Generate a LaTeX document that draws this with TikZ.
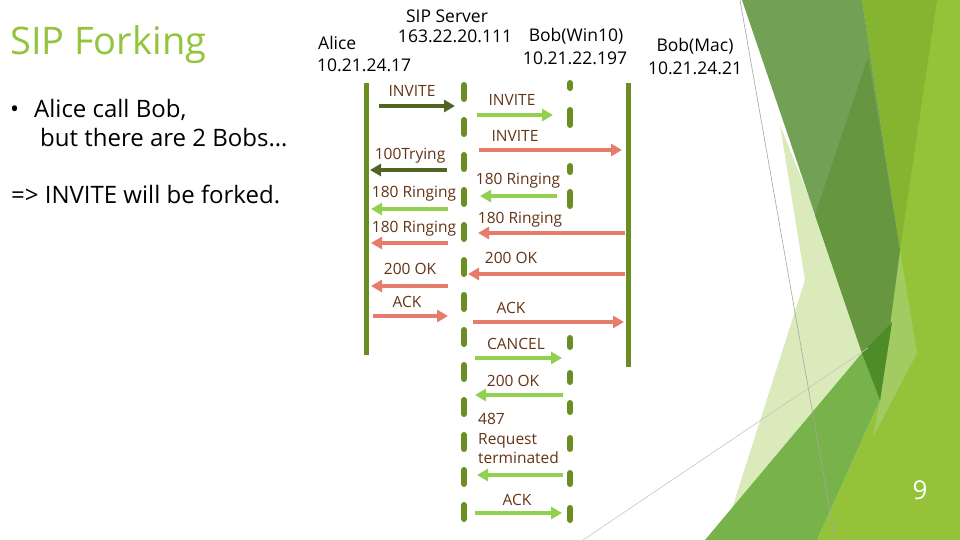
\documentclass[tikz,border=0pt]{standalone}
\usepackage{fontspec}
\setmainfont{Open Sans}
\usetikzlibrary{arrows.meta}
\definecolor{lifeC}{RGB}{107,142,35}
\definecolor{darkA}{RGB}{80,100,38}
\definecolor{lightA}{RGB}{146,208,80}
\definecolor{salA}{RGB}{230,124,106}
\definecolor{labC}{RGB}{100,52,22}
\definecolor{titleC}{RGB}{146,196,61}
\definecolor{ygL}{RGB}{148,195,58}
\definecolor{ygD}{RGB}{133,180,48}
\definecolor{lgB}{RGB}{162,204,98}
\definecolor{paleA}{RGB}{218,234,186}
\definecolor{medG}{RGB}{114,160,84}
\definecolor{medD}{RGB}{103,150,64}
\definecolor{midG}{RGB}{120,178,74}
\definecolor{darkestG}{RGB}{78,140,40}
\tikzset{
  life/.style={line width=5pt, draw=lifeC},
  dashlife/.style={line width=6pt, draw=lifeC, line cap=round, dash pattern=on 14pt off 21pt},
  seglife/.style={line width=6pt, draw=lifeC, line cap=round},
  msg/.style={line width=4.5pt, -{Triangle[length=11pt,width=12pt]}},
  lab/.style={text=labC, font=\fontsize{15.5}{17}\selectfont, inner sep=0pt},
  hdr/.style={font=\fontsize{17.5}{20}\selectfont, inner sep=0pt},
  body/.style={font=\fontsize{24}{28}\selectfont, inner sep=0pt, anchor=base west},
}
\begin{document}
\begin{tikzpicture}[x=1pt,y=-1pt]
\useasboundingbox (0,0) rectangle (960,540);
\fill[white] (0,0) rectangle (960,540);
% background decoration
\fill[ygL] (862,0) -- (960,0) -- (960,540) -- (817,540) -- (880,400) -- (900,250) -- cycle;
\fill[ygD] (862,0) -- (937,0) -- (900,250) -- cycle;
\fill[lgB] (900,250) -- (917,353) -- (873,437) -- (880,400) -- cycle;
\fill[paleA] (780,125) -- (826,240) -- (866,355) -- (760,540) -- (722,540) -- (805,280) -- cycle;
\fill[medG] (742,0) -- (862,0) -- (900,250) -- (880,400) -- (862,353) -- cycle;
\fill[medD] (868,57) -- (900,250) -- (880,400) -- (862,353) -- (815,215) -- cycle;
\fill[midG] (705,540) -- (862,353) -- (892,322) -- (880,400) -- (817,540) -- cycle;
\fill[darkestG] (862,353) -- (892,322) -- (880,400) -- cycle;
\draw[gray!70, line width=0.6pt] (740,0) -- (835,540);
\draw[gray!45, line width=0.6pt] (583,540) -- (868,348);
\node[white, font=\fontsize{26}{30}\selectfont, inner sep=0pt] (pagenum) at (920,490) {9};

% left text
\node[text=titleC, font=\fontsize{38}{42}\selectfont, inner sep=0pt, anchor=base west] (title) at (10,55) {SIP Forking};
\node[body] (bul) at (10,118) {•};
\node[body] (b1) at (34,118) {Alice call Bob,};
\node[body] (b2) at (40,147) {but there are 2 Bobs…};
\node[body] (b3) at (11,204) {=> INVITE will be forked.};

% headers
\node[hdr] (hserver) at (447,16) {SIP Server};
\node[hdr] (hserverip) at (455,36) {163.22.20.111};
\node[hdr, anchor=west] (halice) at (318,43) {Alice};
\node[hdr, anchor=west] (haliceip) at (317,65) {10.21.24.17};
\node[hdr] (hwin) at (576,36) {Bob(Win10)};
\node[hdr] (hwinip) at (575,58) {10.21.22.197};
\node[hdr] (hmac) at (695,46) {Bob(Mac)};
\node[hdr] (hmacip) at (695,68) {10.21.24.21};

% lifelines
\coordinate (aliceT) at (366,83);
\coordinate (aliceB) at (366,355);
\draw[life] (aliceT) -- (aliceB);
\coordinate (macT) at (628,83);
\coordinate (macB) at (628,367);
\draw[life] (macT) -- (macB);
\coordinate (srvT) at (464,85);
\coordinate (srvB) at (464,519);
\draw[dashlife] (srvT) -- (srvB);
\foreach \a/\b in {83/88,110/125,166/172,192/206,338/347,373/382,403/412,438/449,473/484,508/520}
  \draw[seglife] (570,\a) -- (570,\b);

% messages
\coordinate (m1s) at (379,106); \coordinate (m1e) at (455,106);
\draw[msg, darkA] (m1s) -- (m1e);
\node[lab] (l1) at (412,91) {INVITE};

\coordinate (m2s) at (477,115); \coordinate (m2e) at (553,115);
\draw[msg, lightA] (m2s) -- (m2e);
\node[lab] (l2) at (512,100) {INVITE};

\coordinate (m3s) at (479,150); \coordinate (m3e) at (622,150);
\draw[msg, salA] (m3s) -- (m3e);
\node[lab] (l3) at (515,136) {INVITE};

\coordinate (m4s) at (447,170); \coordinate (m4e) at (370,170);
\draw[msg, darkA] (m4s) -- (m4e);
\node[lab] (l4) at (410,156) {100Trying};

\coordinate (m5s) at (557,196); \coordinate (m5e) at (480,196);
\draw[msg, lightA] (m5s) -- (m5e);
\node[lab] (l5) at (518,181) {180 Ringing};

\coordinate (m6s) at (448,209); \coordinate (m6e) at (371,209);
\draw[msg, lightA] (m6s) -- (m6e);
\node[lab] (l6) at (414,194) {180 Ringing};

\coordinate (m7s) at (625,233); \coordinate (m7e) at (478,233);
\draw[msg, salA] (m7s) -- (m7e);
\node[lab] (l7) at (520,220) {180 Ringing};

\coordinate (m8s) at (448,243); \coordinate (m8e) at (371,243);
\draw[msg, salA] (m8s) -- (m8e);
\node[lab] (l8) at (414,229) {180 Ringing};

\coordinate (m9s) at (625,274); \coordinate (m9e) at (468,274);
\draw[msg, salA] (m9s) -- (m9e);
\node[lab] (l9) at (511,258) {200 OK};

\coordinate (m10s) at (448,286); \coordinate (m10e) at (371,286);
\draw[msg, salA] (m10s) -- (m10e);
\node[lab] (l10) at (410,269) {200 OK};

\coordinate (m11s) at (373,316); \coordinate (m11e) at (448,316);
\draw[msg, salA] (m11s) -- (m11e);
\node[lab] (l11) at (407,302) {ACK};

\coordinate (m12s) at (473,322); \coordinate (m12e) at (624,322);
\draw[msg, salA] (m12s) -- (m12e);
\node[lab] (l12) at (511,308) {ACK};

\coordinate (m13s) at (475,358); \coordinate (m13e) at (562,358);
\draw[msg, lightA] (m13s) -- (m13e);
\node[lab] (l13) at (516,344) {CANCEL};

\coordinate (m14s) at (563,395); \coordinate (m14e) at (475,395);
\draw[msg, lightA] (m14s) -- (m14e);
\node[lab] (l14) at (513,381) {200 OK};

\coordinate (m15s) at (563,475); \coordinate (m15e) at (477,475);
\draw[msg, lightA] (m15s) -- (m15e);
\node[lab, anchor=base west] (l15a) at (478,424) {487};
\node[lab, anchor=base west] (l15b) at (478,444) {Request};
\node[lab, anchor=base west] (l15c) at (478,463) {terminated};

\coordinate (m16s) at (475,513); \coordinate (m16e) at (562,513);
\draw[msg, lightA] (m16s) -- (m16e);
\node[lab] (l16) at (517,500) {ACK};
\end{tikzpicture}
\end{document}
